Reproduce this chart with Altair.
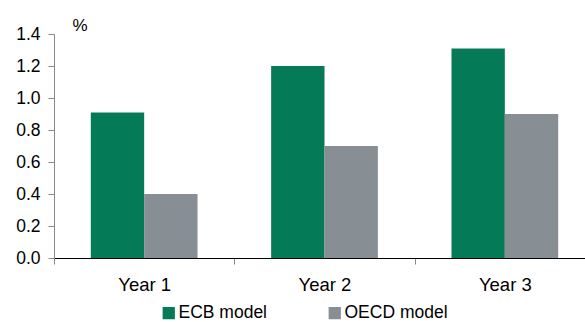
import altair as alt
import pandas as pd

years = ["Year 1", "Year 2", "Year 3"]
ecb = [0.91, 1.20, 1.31]
oecd = [0.40, 0.70, 0.90]
series = ["ECB model", "OECD model"]
colors = ["#047B56", "#878E94"]

rows = []
for i, y in enumerate(years):
    rows.append({"year": y, "model": series[0], "value": ecb[i]})
    rows.append({"year": y, "model": series[1], "value": oecd[i]})
df = pd.DataFrame(rows)

font = "Liberation Sans"

chart = alt.Chart(df).mark_bar().encode(
    x=alt.X("year:N", sort=years, title=None,
            scale=alt.Scale(paddingInner=0, paddingOuter=0, range=[0, 541]),
            axis=alt.Axis(labelAngle=0, tickBand="extent", tickSize=6, tickColor="#888888",
                          domainColor="#000000", domainWidth=1.2, labelPadding=11,
                          labelFontSize=18.5, labelColor="#000000", labelFont=font)),
    xOffset=alt.XOffset("model:N", sort=series,
                        scale=alt.Scale(paddingInner=0, paddingOuter=0.69)),
    y=alt.Y("value:Q", title="%",
            scale=alt.Scale(domain=[0, 1.4], nice=False),
            axis=alt.Axis(values=[0, 0.2, 0.4, 0.6, 0.8, 1.0, 1.2, 1.4], format=".1f",
                          grid=False, tickSize=6, tickColor="#888888", domainColor="#888888",
                          labelPadding=8, labelFontSize=17.5, labelColor="#000000", labelFont=font,
                          titleAngle=0, titleX=18, titleY=-4, titleAlign="left",
                          titleBaseline="alphabetic",
                          titleFontSize=17, titleFontWeight="normal", titleFont=font,
                          titleColor="#000000")),
    color=alt.Color("model:N", sort=series,
                    scale=alt.Scale(domain=series, range=colors),
                    legend=alt.Legend(title=None, orient="none", direction="horizontal",
                                      legendX=106, legendY=270, symbolType="square",
                                      symbolSize=150, symbolStrokeWidth=0, labelFontSize=17.5,
                                      labelFont=font, labelColor="#000000", columnPadding=58,
                                      labelOffset=1)),
).properties(
    width=531, height=224,
    autosize=alt.AutoSizeParams(type="none"),
    padding={"left": 54, "top": 34, "right": 0, "bottom": 64},
).configure_view(stroke=None)

chart.save("out.html", embed_options={"renderer": "svg", "actions": False})
